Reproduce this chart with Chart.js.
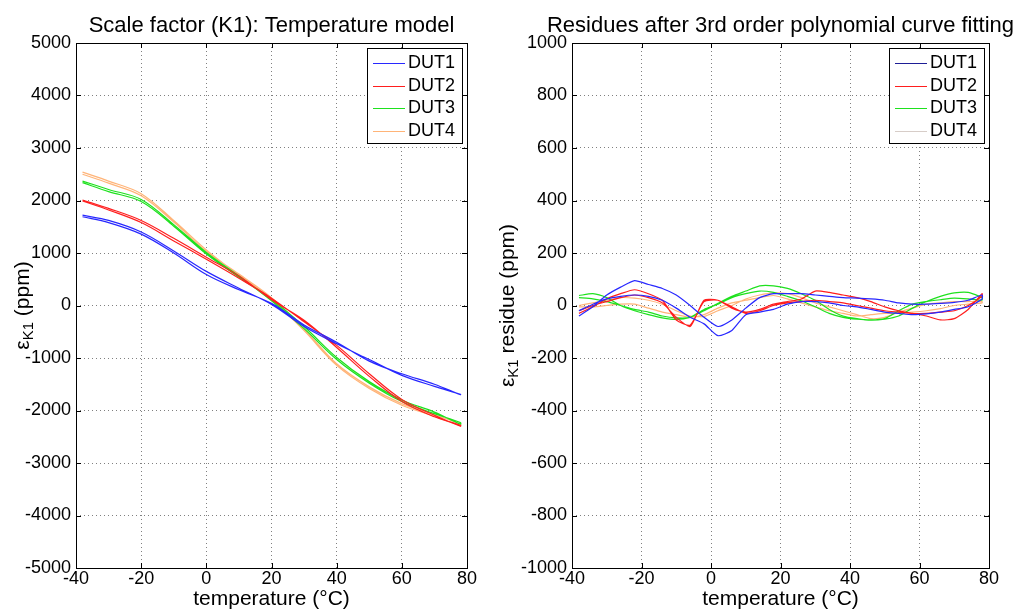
<!DOCTYPE html>
<html lang="en">
<head>
<meta charset="UTF-8">
<title>Scale factor (K1) temperature model</title>
<script src="https://cdn.jsdelivr.net/npm/chart.js"></script>
<style>
  body { margin: 0; background: #fff; width: 1013px; height: 613px; overflow: hidden; }
  .panel { position: absolute; top: 0; height: 613px; }
  #left { left: 0; width: 490px; }
  #right { left: 490px; width: 523px; }
</style>
</head>
<body>
<div class="panel" id="left"><canvas id="modelChart"></canvas></div>
<div class="panel" id="right"><canvas id="residueChart"></canvas></div>
<script>
// left plot: K1 scale factor error (ppm), heating and cooling branch per DUT
const tempK = [-38, -30, -20, -10, 0, 10, 20, 30, 40, 50, 60, 70, 78];
const k1Heat = [1720, 1620, 1400, 1040, 650, 330, 20, -400, -730, -1030, -1330, -1540, -1690];
const k1Cool = [1690, 1580, 1360, 1000, 590, 300, 40, -370, -700, -1060, -1300, -1500, -1700];
const k2Heat = [2010, 1850, 1620, 1280, 920, 560, 110, -280, -800, -1350, -1830, -2120, -2280];
const k2Cool = [1990, 1820, 1580, 1230, 880, 520, 140, -310, -760, -1300, -1790, -2090, -2300];
const k3Heat = [2370, 2210, 2020, 1540, 1010, 560, 90, -440, -1030, -1480, -1830, -2060, -2230];
const k3Cool = [2340, 2170, 1980, 1510, 980, 540, 120, -400, -990, -1450, -1800, -2030, -2260];
const k4Heat = [2540, 2370, 2130, 1620, 1060, 580, 120, -480, -1140, -1580, -1900, -2110, -2290];
const k4Cool = [2500, 2330, 2090, 1590, 1030, 600, 150, -450, -1110, -1550, -1870, -2080, -2260];

// right plot: residues after 3rd order fit (ppm)
const tempR = [-38, -34, -30, -26, -22, -18, -14, -10, -6, -2, 2, 6, 10, 14, 18, 22, 26, 30, 34, 38, 42, 46, 50, 54, 58, 62, 66, 70, 74, 78];
const res1Heat = [-40, -5, 40, 70, 95, 80, 65, 40, 0, -45, -80, -55, -10, 30, 45, 45, 45, 40, 35, 30, 28, 25, 20, 10, 5, 5, 8, 12, 20, 40];
const res1Cool = [-20, 5, 25, 35, 40, 35, 20, -10, -45, -70, -115, -95, -35, -25, -15, 5, 15, 15, 10, 0, -5, -15, -25, -30, -35, -32, -25, -15, -5, 25];
const res2Heat = [-30, -5, 25, 45, 60, 45, 20, -55, -75, 15, 20, -10, -25, -15, 5, 15, 25, 55, 50, 40, 30, 15, -5, -20, -30, -40, -55, -50, -15, 45];
const res2Cool = [-20, 0, 15, 30, 40, 30, 10, -45, -80, 20, 20, -5, -30, -20, 0, 10, 15, 20, 15, 10, 0, -10, -20, -25, -30, -30, -25, -20, 0, 35];
const res3Heat = [38, 45, 30, 0, -20, -35, -47, -53, -45, -20, 8, 35, 55, 75, 75, 65, 45, 20, -15, -40, -50, -56, -52, -40, -10, 15, 35, 48, 50, 30];
const res3Cool = [30, 25, 15, 0, -15, -25, -40, -47, -45, -15, 5, 30, 45, 55, 50, 35, 18, -5, -30, -45, -52, -55, -50, -20, 5, 15, 22, 28, 25, 20];
const res4Heat = [0, 10, 20, 30, 28, 20, 5, -20, -40, -42, -20, 0, 25, 40, 48, 45, 30, 10, -5, -20, -35, -50, -45, -25, -10, 5, 10, 15, 15, 15];
const res4Cool = [-5, -5, 0, 5, 5, -10, -25, -35, -45, -35, -10, 10, 20, 30, 38, 25, 10, -5, -20, -30, -40, -35, -30, -28, -25, -20, -12, 0, 5, 10];

const dutLabels = ['DUT1', 'DUT2', 'DUT3', 'DUT4'];
const dutColors = ['rgb(40,40,255)', 'rgb(255,30,30)', 'rgb(30,225,30)', 'rgb(255,180,120)'];
const residueLegendColors = ['rgb(30,30,150)', 'rgb(255,30,30)', 'rgb(30,225,30)', 'rgb(215,205,200)'];

const FONT = '"Liberation Sans", Arial, sans-serif';
Chart.defaults.font.family = FONT;
Chart.defaults.color = '#000';

// heating branch up, cooling branch back down -> one hysteresis loop
function loop(temps, heat, cool) {
    const pts = temps.map((t, i) => ({ x: t, y: heat[i] }));
    for (let i = temps.length - 1; i >= 0; i--) pts.push({ x: temps[i], y: cool[i] });
    return pts;
}

function makeDatasets(temps, branches, legendColors, tension) {
    return branches.map((b, i) => ({
        label: dutLabels[i],
        data: loop(temps, b[0], b[1]),
        borderColor: dutColors[i],
        legendColor: legendColors ? legendColors[i] : dutColors[i],
        borderWidth: 1.2,
        pointRadius: 0,
        showLine: true,
        tension: tension
    }));
}

// matlab-like frame: box, inward ticks, boxed legend, title and y label with subscript
const matlabFrame = {
    id: 'matlabFrame',
    afterDatasetsDraw(chart, args, opts) {
        const { ctx, chartArea: a, scales } = chart;
        ctx.save();
        ctx.strokeStyle = '#000';
        ctx.lineWidth = 1;
        ctx.beginPath();
        scales.x.ticks.forEach(t => {
            const px = Math.round(scales.x.getPixelForValue(t.value)) + 0.5;
            ctx.moveTo(px, a.bottom); ctx.lineTo(px, a.bottom - 5);
            ctx.moveTo(px, a.top); ctx.lineTo(px, a.top + 5);
        });
        scales.y.ticks.forEach(t => {
            const py = Math.round(scales.y.getPixelForValue(t.value)) + 0.5;
            ctx.moveTo(a.left, py); ctx.lineTo(a.left + 5, py);
            ctx.moveTo(a.right, py); ctx.lineTo(a.right - 5, py);
        });
        ctx.stroke();
        ctx.strokeRect(Math.round(a.left) + 0.5, Math.round(a.top) + 0.5, Math.round(a.width), Math.round(a.height));

        // legend box
        const lw = 95, lh = 95;
        const lx = Math.round(a.right) - 100, ly = Math.round(a.top) + 5;
        ctx.fillStyle = '#fff';
        ctx.fillRect(lx, ly, lw, lh);
        ctx.strokeStyle = '#000';
        ctx.strokeRect(lx + 0.5, ly + 0.5, lw, lh);
        ctx.font = '18px ' + FONT;
        ctx.textBaseline = 'middle';
        chart.data.datasets.forEach((ds, i) => {
            const cy = Math.round(ly + 15 + i * 22.5) + 0.5;
            ctx.strokeStyle = ds.legendColor;
            ctx.beginPath();
            ctx.moveTo(lx + 6, cy); ctx.lineTo(lx + 38, cy);
            ctx.stroke();
            ctx.fillStyle = '#000';
            ctx.fillText(ds.label, lx + 41, cy);
        });

        // title
        ctx.font = '22px ' + FONT;
        ctx.textAlign = 'center';
        ctx.textBaseline = 'alphabetic';
        ctx.fillText(opts.title, (a.left + a.right) / 2, 32);

        // y label: epsilon with K1 subscript
        const big = '21px ' + FONT, small = '15px ' + FONT;
        ctx.translate(opts.yTitleX, (a.top + a.bottom) / 2);
        ctx.rotate(-Math.PI / 2);
        ctx.textAlign = 'left';
        ctx.textBaseline = 'middle';
        ctx.font = big;
        const w1 = ctx.measureText('ε').width;
        const w3 = ctx.measureText(opts.yRest).width;
        ctx.font = small;
        const w2 = ctx.measureText('K1').width;
        let x0 = -(w1 + w2 + w3) / 2;
        ctx.font = big;
        ctx.fillText('ε', x0, 0);
        ctx.font = small;
        ctx.fillText('K1', x0 + w1, 6);
        ctx.font = big;
        ctx.fillText(opts.yRest, x0 + w1 + w2, 0);
        ctx.restore();
    }
};

function makeOptions(yMin, yMax, yStep, yWidth, padRight, frameOpts) {
    return {
        responsive: true,
        maintainAspectRatio: false,
        animation: false,
        layout: { padding: { top: 43, right: padRight, left: 0, bottom: 0 } },
        plugins: {
            legend: { display: false },
            tooltip: { enabled: false },
            matlabFrame: frameOpts
        },
        scales: {
            x: {
                type: 'linear', min: -40, max: 80,
                ticks: { stepSize: 20, font: { size: 18 }, padding: 0, maxRotation: 0, callback: v => String(v) },
                grid: { color: '#808080', drawTicks: false },
                border: { display: false, dash: [1, 3] },
                title: { display: true, text: 'temperature (°C)', font: { size: 21 }, padding: { top: 0, bottom: 1 } },
                afterFit(s) { s.height = 45; }
            },
            y: {
                type: 'linear', min: yMin, max: yMax,
                ticks: { stepSize: yStep, font: { size: 18 }, padding: 5, callback: v => String(v) },
                grid: { color: '#808080', drawTicks: false },
                border: { display: false, dash: [1, 3] },
                afterFit(s) { s.width = yWidth; }
            }
        }
    };
}

new Chart(document.getElementById('modelChart'), {
    type: 'scatter',
    data: {
        datasets: makeDatasets(tempK, [[k1Heat, k1Cool], [k2Heat, k2Cool], [k3Heat, k3Cool], [k4Heat, k4Cool]], null, 0.35)
    },
    options: makeOptions(-5000, 5000, 1000, 76, 23,
        { title: 'Scale factor (K1): Temperature model', yTitleX: 23, yRest: ' (ppm)' }),
    plugins: [matlabFrame]
});

new Chart(document.getElementById('residueChart'), {
    type: 'scatter',
    data: {
        datasets: makeDatasets(tempR, [[res1Heat, res1Cool], [res2Heat, res2Cool], [res3Heat, res3Cool], [res4Heat, res4Cool]], residueLegendColors, 0.2)
    },
    options: makeOptions(-1000, 1000, 200, 82, 24,
        { title: 'Residues after 3rd order polynomial curve fitting', yTitleX: 18, yRest: ' residue (ppm)' }),
    plugins: [matlabFrame]
});
</script>
</body>
</html>
